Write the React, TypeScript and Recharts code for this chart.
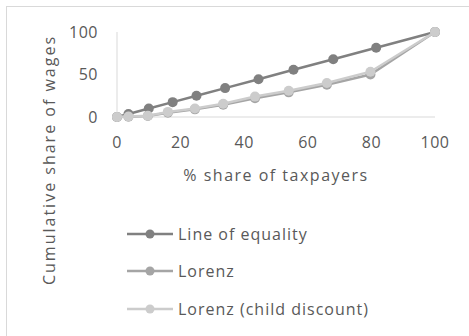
import { ScatterChart, Scatter, XAxis, YAxis } from "recharts";

// Lorenz curve of wages vs taxpayers. Equality points sit a touch to the right
// of the Lorenz points in the original, so each series keeps its own x values.
const equalityX = [0, 3.6, 10, 17.5, 25, 34, 44.5, 55.5, 68, 81.5, 100];
const equalityY = [0, 3.6, 10, 17.5, 25, 34, 44.5, 55.5, 68, 81.5, 100];
const lorenzX = [0, 3.6, 9.7, 16, 24.5, 33.4, 43.4, 54, 66, 79.7, 100];
const lorenzY = [0, 0.3, 1.2, 5, 9, 14.5, 22, 29, 38, 50, 100];
const childY = [0, 0.5, 1.5, 6, 10, 15.5, 24, 30.8, 40, 53.3, 100];

const xTicks = [0, 20, 40, 60, 80, 100];
const yTicks = [0, 50, 100];

const TEXT = "#595959";
const AXIS = "#d9d9d9";

const toPoints = (xs: number[], ys: number[]) => xs.map((x, i) => ({ x, y: ys[i] }));

const SERIES = [
  { name: "Line of equality", color: "#808080", data: toPoints(equalityX, equalityY) },
  { name: "Lorenz", color: "#a5a5a5", data: toPoints(lorenzX, lorenzY) },
  { name: "Lorenz (child discount)", color: "#cccccc", data: toPoints(lorenzX, childY) },
];

function LegendRows() {
  return (
    <div style={{ position: "absolute", left: 127, top: 215, display: "flex", flexDirection: "column" }}>
      {SERIES.map((s) => (
        <div key={s.name} style={{ height: 37.5, display: "flex", alignItems: "center" }}>
          <svg width={46} height={12}>
            <line x1={0} y1={6} x2={46} y2={6} stroke={s.color} strokeWidth={2.5} />
            <circle cx={23} cy={6} r={4.5} fill={s.color} />
          </svg>
          <span style={{ marginLeft: 5, fontSize: 16, color: TEXT, whiteSpace: "nowrap", letterSpacing: 1 }}>
            {s.name}
          </span>
        </div>
      ))}
    </div>
  );
}

export default function App() {
  return (
    <div
      style={{
        position: "absolute",
        left: 0,
        top: 0,
        width: 469,
        height: 336,
        overflow: "hidden",
        background: "#fff",
        fontFamily: "'Open Sans', sans-serif",
      }}
    >
      <div style={{ position: "absolute", left: 6, top: 6, width: 600, height: 500, border: `1px solid ${AXIS}` }} />
      <ScatterChart width={469} height={336} margin={{ top: 32, right: 34, left: 57, bottom: 189 }}>
        <XAxis
          type="number"
          dataKey="x"
          domain={[0, 100]}
          ticks={xTicks}
          height={30}
          tickLine={false}
          tickSize={0}
          tickMargin={20}
          axisLine={{ stroke: AXIS }}
          tick={{ fill: TEXT, fontSize: 16, letterSpacing: 0.5 }}
          label={{
            value: "% share of taxpayers",
            position: "bottom",
            offset: 23,
            fill: TEXT,
            fontSize: 16,
            letterSpacing: 1.5,
          }}
        />
        <YAxis
          type="number"
          dataKey="y"
          domain={[0, 100]}
          ticks={yTicks}
          width={60}
          tickLine={false}
          tickSize={0}
          tickMargin={19}
          axisLine={{ stroke: AXIS }}
          tick={{ fill: TEXT, fontSize: 16, letterSpacing: 0.5 }}
        />
        {SERIES.map((s) => (
          <Scatter
            key={s.name}
            name={s.name}
            data={s.data}
            line={{ stroke: s.color, strokeWidth: 2.5 }}
            lineType="joint"
            isAnimationActive={false}
            shape={(p: any) => <circle cx={p.cx} cy={p.cy} r={5} fill={s.color} />}
          />
        ))}
      </ScatterChart>
      <div
        style={{
          position: "absolute",
          left: 49,
          top: 160,
          transform: "translate(-50%, -50%) rotate(-90deg)",
          fontSize: 16,
          color: TEXT,
          whiteSpace: "nowrap",
          letterSpacing: 2,
        }}
      >
        Cumulative share of wages
      </div>
      <LegendRows />
    </div>
  );
}
